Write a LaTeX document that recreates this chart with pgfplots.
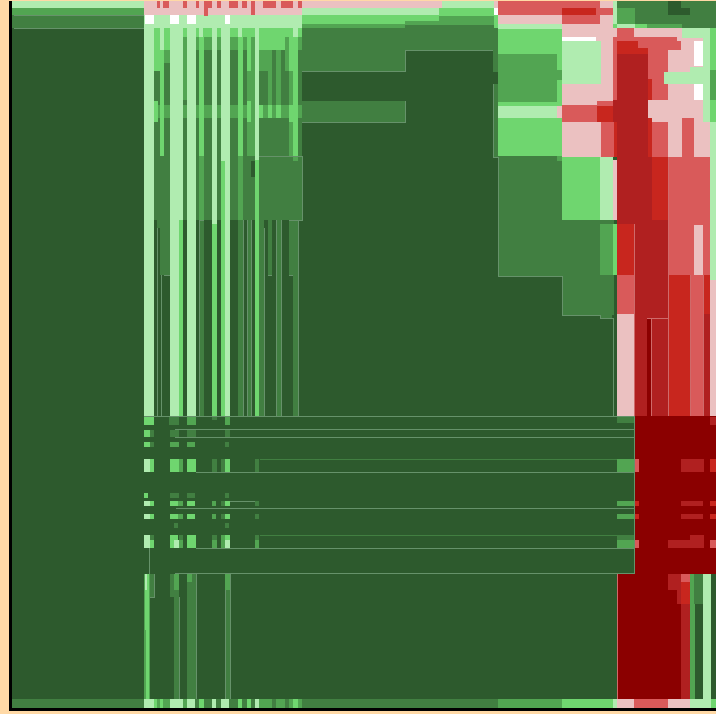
\documentclass[border=0pt]{standalone}
\usepackage{pgfplots}
\pgfplotsset{compat=1.18}
\definecolor{Gz}{HTML}{2D5A2D}
\definecolor{Ga}{HTML}{417F41}
\definecolor{Gb}{HTML}{52A552}
\definecolor{Gc}{HTML}{6FD66F}
\definecolor{Gd}{HTML}{B0ECB0}
\definecolor{Pk}{HTML}{EBC1C1}
\definecolor{Ra}{HTML}{D95A5A}
\definecolor{Rb}{HTML}{C8261E}
\definecolor{Rc}{HTML}{B02020}
\definecolor{Rd}{HTML}{8B0000}
\definecolor{Bg}{HTML}{FFD9A6}
\definecolor{Ln}{HTML}{66926A}
\definecolor{Lr}{HTML}{CF6A6A}
\newcommand\R[5]{\addplot[fill=#1,draw=none] coordinates {(#2,#4)(#3,#4)(#3,#5)(#2,#5)} --cycle;}
\newcommand\LL[1]{\addplot[draw=Ln,line width=0.7pt,no markers] coordinates {#1};}
\newcommand\LF[1]{\addplot[draw=Ga,line width=0.7pt,no markers] coordinates {#1};}
\newcommand\LR[1]{\addplot[draw=Lr,line width=0.7pt,no markers] coordinates {#1};}
\begin{document}
\begin{tikzpicture}
\begin{axis}[width=716pt,height=714pt,scale only axis,hide axis,
  xmin=0,xmax=716,ymin=0,ymax=714,y dir=reverse,clip=true]
% background and frame
\R{Bg}{0}{716}{0}{714}
\R{black}{9}{716}{1}{711}
\R{Gz}{12}{716}{1}{708}
% left column
\R{Gd}{12}{144}{1}{8}
\R{Gb}{12}{144}{8}{15}
\R{Ga}{12}{144}{15}{28}
\R{Ga}{12}{302}{699}{708}
\LL{(14,15)(144,15)}
\LL{(14,28)(144,28)}
% upper stripes block: base
\R{Ga}{144}{302}{50}{220}
\R{Gc}{144}{302}{28}{37}
\R{Gb}{144}{302}{37}{50}
\R{Gb}{144}{302}{105}{118}
\R{Ga}{157}{170}{220}{228}
\R{Ga}{160}{170}{228}{275}
\R{Ga}{268}{272}{220}{275}
\R{Ga}{289}{293}{220}{275}
% stripes y<220
\R{Gc}{154}{160}{37}{71}
\R{Gc}{154}{158}{101}{122}
\R{Gc}{160}{164}{50}{156}
\R{Gc}{164}{170}{37}{50}
\R{Gb}{164}{170}{50}{63}
\R{Gb}{183}{187}{37}{100}
\R{Gb}{196}{199}{37}{50}
\R{Gc}{199}{204}{37}{156}
\R{Gb}{199}{204}{156}{220}
\R{Gb}{204}{212}{37}{50}
\R{Gc}{238}{243}{37}{156}
\R{Gb}{238}{243}{156}{220}
\R{Gc}{247}{251}{37}{71}
\R{Gb}{247}{251}{71}{156}
\R{Gc}{247}{251}{101}{122}
\R{Gb}{251}{255}{37}{156}
\R{Gz}{251}{255}{161}{177}
\R{Gc}{259}{272}{37}{50}
\R{Gb}{259}{264}{50}{71}
\R{Gb}{264}{268}{50}{71}
\R{Gb}{268}{272}{50}{118}
\R{Gc}{272}{276}{37}{50}
\R{Gc}{276}{285}{37}{50}
\R{Gb}{276}{281}{50}{118}
\R{Gb}{285}{289}{37}{71}
\R{Gb}{289}{293}{50}{156}
\R{Gc}{289}{298}{37}{71}
\R{Gc}{293}{298}{71}{156}
\R{Gb}{293}{298}{156}{161}
\R{Gc}{259}{263}{105}{118}
\R{Gc}{268}{272}{105}{118}
\R{Gc}{276}{281}{105}{118}
\R{Gc}{289}{298}{105}{122}
% below 220 inside the block
\R{Ga}{199}{204}{220}{416}
\R{Ga}{238}{243}{220}{416}
\R{Ga}{247}{251}{220}{416}
\R{Ga}{259}{264}{220}{416}
\R{Ga}{276}{281}{220}{416}
\R{Ga}{293}{298}{220}{416}
% main light stripes
\R{Gd}{144}{154}{28}{416}
\R{Gd}{160}{164}{28}{50}
\R{Gd}{170}{183}{28}{220}
\R{Gc}{179}{183}{220}{416}
\R{Gd}{170}{179}{220}{416}
\R{Gd}{187}{196}{28}{416}
\R{Gd}{199}{203}{28}{37}
\R{Gd}{212}{217}{28}{224}
\R{Gc}{212}{217}{224}{416}
\R{Gd}{221}{230}{28}{161}
\R{Gc}{221}{225}{161}{416}
\R{Gd}{225}{230}{161}{416}
\R{Gd}{238}{242}{28}{37}
\R{Gd}{255}{259}{28}{160}
\R{Gc}{255}{259}{160}{416}
\R{Gd}{293}{298}{28}{37}
% stripe outlines
\LL{(157,228)(157,416)}
\LL{(161,275)(161,416)}
\LL{(164,275)(170,275)}
\LL{(259,156)(302,156)}
\LL{(302,156)(302,220)(289,220)}
\LL{(204,220)(199,220)(199,416)}
\LL{(243,220)(243,416)}
\LL{(247,220)(247,416)}
\LL{(251,220)(251,416)}
\LL{(264,228)(264,416)}
\LL{(276,220)(276,416)}
\LL{(281,220)(281,416)}
\LL{(298,220)(298,416)}
\LL{(268,275)(272,275)}
\LL{(289,275)(293,275)}
% top band
\R{Pk}{144}{442}{1}{15}
\R{Gd}{144}{302}{15}{28}
\R{Ra}{157}{160}{1}{8}
\R{Ra}{163}{169}{1}{8}
\R{Ra}{183}{187}{1}{8}
\R{Ra}{196}{199}{1}{8}
\R{Ra}{204}{212}{1}{8}
\R{Ra}{204}{208}{8}{16}
\R{Ra}{217}{221}{1}{8}
\R{Ra}{229}{238}{1}{8}
\R{Ra}{242}{247}{1}{8}
\R{Ra}{251}{255}{1}{15}
\R{Ra}{263}{276}{1}{8}
\R{Ra}{281}{293}{1}{8}
\R{Ra}{298}{302}{1}{8}
\R{white}{145}{154}{15}{24}
\R{white}{170}{179}{15}{24}
\R{white}{187}{196}{15}{24}
\R{white}{225}{230}{15}{24}
% block 302-498 top
\R{Gd}{302}{439}{8}{15}
\R{Pk}{302}{442}{1}{8}
\R{Gc}{302}{405}{15}{24}
\R{Gb}{302}{405}{24}{28}
\R{Ga}{302}{405}{28}{71}
\R{Gc}{405}{439}{15}{21}
\R{Gb}{405}{494}{21}{25}
\R{Ga}{405}{494}{25}{50}
\R{Gd}{442}{494}{1}{8}
\R{Gc}{439}{494}{8}{16}
\R{Gb}{439}{494}{16}{21}
\R{Gb}{476}{494}{21}{25}
\R{Ga}{302}{405}{101}{122}
\LL{(302,71)(405,71)(405,50)(494,50)}
\LL{(302,122)(405,122)(405,101)}
% column 494-498
\R{Pk}{494}{498}{1}{8}
\R{white}{494}{498}{8}{15}
\R{Gc}{494}{498}{15}{28}
\R{Ga}{493}{498}{28}{72}
\R{Ga}{493}{498}{84}{157}
\LL{(493,84)(493,157)(498,157)}
% big G1 region right of middle
\R{Ga}{498}{562}{156}{276}
\R{Ga}{562}{614}{220}{315}
\R{Ga}{600}{612}{315}{318}
\LL{(498,157)(498,276)(562,276)(562,315)(600,315)(600,318)(613,318)(613,416)}
% column 498-562
\R{Ra}{498}{600}{1}{8}
\R{Pk}{600}{613}{1}{8}
\R{Ra}{498}{613}{8}{15}
\R{Pk}{498}{562}{15}{24}
\R{Gd}{498}{562}{24}{29}
\R{Gc}{498}{562}{29}{54}
\R{Gb}{498}{557}{54}{102}
\R{Gc}{498}{562}{102}{106}
\R{Gd}{498}{557}{106}{118}
\R{Gc}{498}{562}{118}{156}
\R{Gc}{557}{562}{37}{70}
\R{Gb}{557}{562}{70}{80}
\R{Gc}{557}{562}{80}{102}
\R{Pk}{557}{562}{106}{118}
\R{Gb}{557}{562}{156}{161}
% column 562-617
\R{Rb}{562}{596}{8}{15}
\R{Ra}{562}{600}{15}{24}
\R{Pk}{600}{613}{15}{24}
\R{Pk}{562}{613}{24}{37}
\R{Pk}{596}{613}{37}{70}
\R{Pk}{562}{596}{37}{41}
\R{white}{562}{596}{37}{41}
\R{Gd}{562}{601}{41}{84}
\R{Pk}{601}{613}{70}{84}
\R{Pk}{562}{613}{84}{105}
\R{Ra}{562}{597}{105}{122}
\R{Ra}{597}{613}{101}{106}
\R{Rb}{597}{613}{106}{122}
\R{Pk}{562}{601}{122}{157}
\R{Ra}{601}{614}{122}{157}
\R{Rb}{614}{617}{122}{157}
\R{Gc}{562}{600}{157}{220}
\R{Gd}{600}{613}{157}{220}
\R{Pk}{613}{617}{160}{220}
\R{Ga}{562}{600}{220}{225}
\R{Gb}{600}{613}{224}{275}
\R{Gc}{613}{617}{224}{275}
\R{Gd}{613}{617}{1}{24}
\R{Gc}{613}{617}{24}{28}
\R{Pk}{613}{617}{28}{37}
\R{Ra}{613}{617}{37}{100}
\R{Rc}{613}{617}{100}{122}
% top right greens
\R{Ga}{617}{716}{1}{28}
\R{Gb}{617}{635}{8}{24}
\R{Gz}{668}{681}{1}{15}
\R{Gz}{681}{690}{8}{15}
\R{Gd}{617}{635}{24}{28}
\R{Gc}{635}{647}{24}{28}
\R{Gb}{647}{682}{24}{28}
% top right block
\R{Ra}{617}{634}{28}{37}
\R{Pk}{634}{682}{28}{41}
\R{Gd}{682}{710}{28}{38}
\R{Ra}{613}{677}{37}{41}
\R{Rb}{617}{638}{41}{54}
\R{Ra}{638}{681}{41}{50}
\R{Rb}{638}{648}{48}{54}
\R{Ra}{648}{668}{50}{100}
\R{Pk}{681}{693}{38}{70}
\R{Pk}{668}{694}{50}{72}
\R{Gd}{703}{710}{38}{122}
\R{Pk}{693}{703}{38}{67}
\R{white}{694}{703}{41}{66}
\R{Gd}{690}{710}{67}{85}
\R{Gd}{664}{690}{72}{84}
\R{Pk}{668}{694}{84}{100}
\R{white}{694}{703}{84}{100}
\R{Gc}{710}{716}{28}{70}
\R{Gb}{710}{716}{70}{100}
\R{Gc}{710}{716}{100}{122}
\R{Gd}{710}{716}{122}{280}
% red tower
\R{Rc}{617}{648}{54}{157}
\R{Rc}{617}{668}{157}{224}
\R{Rc}{634}{668}{224}{318}
\R{Rb}{648}{652}{79}{105}
\R{Pk}{648}{703}{100}{122}
\R{Ra}{648}{668}{122}{157}
\R{Rb}{648}{652}{118}{157}
\R{Pk}{668}{682}{122}{157}
\R{Ra}{682}{694}{118}{157}
\R{Pk}{694}{710}{122}{160}
\R{Rb}{652}{668}{157}{220}
\R{Ra}{668}{710}{157}{275}
\R{Pk}{694}{703}{225}{275}
\R{Rb}{617}{634}{224}{275}
\R{Ra}{617}{634}{275}{314}
\R{Pk}{617}{634}{314}{416}
\R{Rc}{634}{647}{318}{416}
\R{Rd}{647}{651}{318}{416}
\R{Rc}{651}{668}{318}{416}
\R{Rb}{668}{690}{275}{416}
\R{Ra}{690}{703}{275}{416}
\R{Rb}{703}{710}{275}{314}
\R{Rc}{703}{710}{314}{416}
\R{Pk}{710}{716}{280}{416}
\LR{(668,157)(668,416)}
\LR{(634,224)(634,416)}
\LR{(647,318)(668,318)}
\LR{(651,318)(651,416)}
\LR{(690,275)(690,416)}
\LR{(703,275)(703,416)}
% middle band
\LL{(144,416)(634,416)}
\LL{(175,429)(634,429)}
\LL{(175,437)(634,437)}
\LL{(196,472)(634,472)}
\LF{(260,459)(617,459)}
\LL{(230,501)(255,501)}
\LL{(176,508)(634,508)}
\LF{(260,535)(617,535)}
\LL{(196,548)(634,548)}
\LL{(175,573)(634,573)}
\LL{(634,416)(634,574)}
\R{Ga}{617}{634}{417}{423}
\R{Gb}{617}{634}{459}{472}
\R{Gb}{617}{634}{501}{506}
\R{Gb}{617}{634}{514}{519}
\R{Ga}{617}{634}{535}{540}
\R{Gb}{617}{634}{540}{548}
% reds right of band
\R{Rd}{635}{716}{416}{574}
\R{Rc}{710}{716}{417}{425}
\R{Ra}{635}{639}{459}{472}
\R{Rc}{681}{704}{459}{472}
\R{Rb}{710}{716}{459}{472}
\R{Rb}{635}{639}{501}{506}
\R{Rc}{681}{703}{501}{506}
\R{Rb}{710}{716}{501}{506}
\R{Rb}{635}{639}{514}{519}
\R{Rc}{681}{703}{514}{519}
\R{Rb}{710}{716}{514}{519}
\R{Rc}{690}{704}{535}{540}
\R{Rc}{668}{704}{540}{548}
\R{Ra}{635}{639}{540}{548}
\R{Ra}{710}{716}{540}{548}
% band patches
\R{Gc}{144}{154}{417}{425}
\R{Ga}{169}{179}{417}{425}
\R{Gb}{187}{196}{417}{425}
\R{Ga}{212}{217}{417}{420}
\R{Gb}{225}{230}{417}{425}
\R{Gc}{144}{150}{430}{437}
\R{Ga}{150}{154}{430}{437}
\R{Ga}{170}{179}{430}{437}
\R{Ga}{187}{196}{430}{437}
\R{Ga}{225}{230}{430}{437}
\R{Gc}{144}{150}{442}{447}
\R{Ga}{150}{154}{442}{447}
\R{Gb}{170}{179}{442}{447}
\R{Gb}{187}{195}{442}{447}
\R{Ga}{225}{229}{442}{447}
\R{Gd}{144}{150}{459}{472}
\R{Gc}{150}{154}{459}{472}
\R{Gc}{170}{179}{459}{472}
\R{Gb}{179}{183}{459}{472}
\R{Gc}{187}{196}{459}{472}
\R{Ga}{212}{217}{459}{472}
\R{Ga}{221}{225}{459}{472}
\R{Gc}{225}{230}{459}{472}
\R{Ga}{255}{259}{459}{472}
\R{Gc}{144}{148}{493}{498}
\R{Ga}{170}{179}{493}{498}
\R{Ga}{187}{195}{493}{498}
\R{Ga}{225}{229}{493}{498}
\R{Gd}{144}{150}{501}{506}
\R{Gc}{150}{154}{501}{506}
\R{Gc}{170}{178}{501}{506}
\R{Gb}{178}{183}{501}{506}
\R{Gc}{187}{195}{501}{506}
\R{Gb}{212}{216}{501}{506}
\R{Ga}{221}{225}{501}{506}
\R{Gc}{225}{230}{501}{506}
\R{Ga}{255}{259}{501}{506}
\R{Gd}{144}{150}{514}{519}
\R{Gc}{150}{154}{514}{519}
\R{Gc}{170}{178}{514}{519}
\R{Gb}{178}{183}{514}{519}
\R{Gc}{187}{195}{514}{519}
\R{Gb}{212}{216}{514}{519}
\R{Ga}{221}{225}{514}{519}
\R{Gc}{225}{230}{514}{519}
\R{Ga}{255}{259}{514}{519}
\R{Ga}{174}{178}{523}{528}
\R{Ga}{225}{229}{523}{528}
\R{Gd}{144}{150}{535}{548}
\R{Ga}{150}{154}{535}{540}
\R{Gc}{150}{154}{540}{548}
\R{Gc}{170}{174}{535}{548}
\R{Gc}{174}{178}{535}{540}
\R{Gd}{174}{179}{540}{548}
\R{Ga}{179}{183}{535}{540}
\R{Gb}{179}{183}{540}{548}
\R{Gc}{187}{196}{535}{548}
\R{Ga}{212}{217}{535}{540}
\R{Gb}{212}{217}{540}{548}
\R{Gb}{221}{225}{535}{548}
\R{Gc}{225}{230}{535}{540}
\R{Gd}{225}{230}{540}{548}
\R{Ga}{255}{259}{535}{540}
\R{Gb}{255}{259}{540}{548}
\LL{(149,548)(149,574)}
% lower stripes
\R{Ga}{149}{154}{574}{597}
\R{Gb}{144}{150}{574}{699}
\R{Gc}{145}{149}{574}{630}
\R{Gd}{145}{147}{574}{590}
\R{Gc}{146}{149}{630}{699}
\R{Ga}{170}{179}{574}{597}
\R{Ga}{174}{179}{597}{699}
\R{Gb}{174}{179}{574}{590}
\R{Ga}{187}{196}{574}{699}
\R{Gb}{187}{192}{574}{582}
\R{Ga}{225}{230}{590}{699}
\R{Gb}{225}{230}{574}{590}
\LL{(154,574)(154,597)(150,597)}
\LL{(179,597)(179,699)}
\LL{(196,574)(196,699)}
\LL{(230,574)(230,699)}
\LL{(225,590)(225,699)}
% lower right
\R{Rd}{617}{716}{574}{699}
\R{Rc}{668}{681}{574}{590}
\R{Rc}{677}{681}{590}{604}
\R{Rc}{681}{690}{574}{699}
\R{Rb}{681}{690}{582}{604}
\R{Ra}{681}{694}{574}{582}
\R{Gb}{690}{695}{574}{699}
\R{Ga}{694}{711}{574}{604}
\R{Gz}{695}{703}{604}{699}
\R{Gd}{703}{711}{574}{699}
\R{Gz}{711}{716}{574}{699}
\LR{(617,574)(617,699)}
% bottom row
\R{Gd}{144}{154}{699}{708}
\R{Gc}{154}{157}{699}{708}
\R{Gb}{157}{160}{699}{708}
\R{Gc}{160}{163}{699}{708}
\R{Gb}{163}{170}{699}{708}
\R{Gd}{170}{183}{699}{708}
\R{Gb}{183}{187}{699}{708}
\R{Gd}{187}{195}{699}{708}
\R{Gc}{199}{204}{699}{708}
\R{Gd}{212}{216}{699}{708}
\R{Gd}{221}{229}{699}{708}
\R{Gc}{238}{242}{699}{708}
\R{Gc}{247}{251}{699}{708}
\R{Gd}{255}{259}{699}{708}
\R{Gb}{259}{272}{699}{708}
\R{Gb}{276}{285}{699}{708}
\R{Gb}{289}{293}{699}{708}
\R{Gc}{293}{298}{699}{708}
\R{Gb}{298}{302}{699}{708}
\R{Ga}{302}{498}{699}{708}
\R{Gb}{498}{562}{699}{708}
\R{Gc}{562}{613}{699}{708}
\R{Gd}{613}{617}{699}{708}
\R{Pk}{617}{634}{699}{708}
\R{Ra}{634}{668}{699}{708}
\R{Pk}{668}{690}{699}{708}
\R{Gd}{690}{711}{699}{708}
\R{Gc}{711}{716}{699}{708}
\end{axis}
\end{tikzpicture}
\end{document}
